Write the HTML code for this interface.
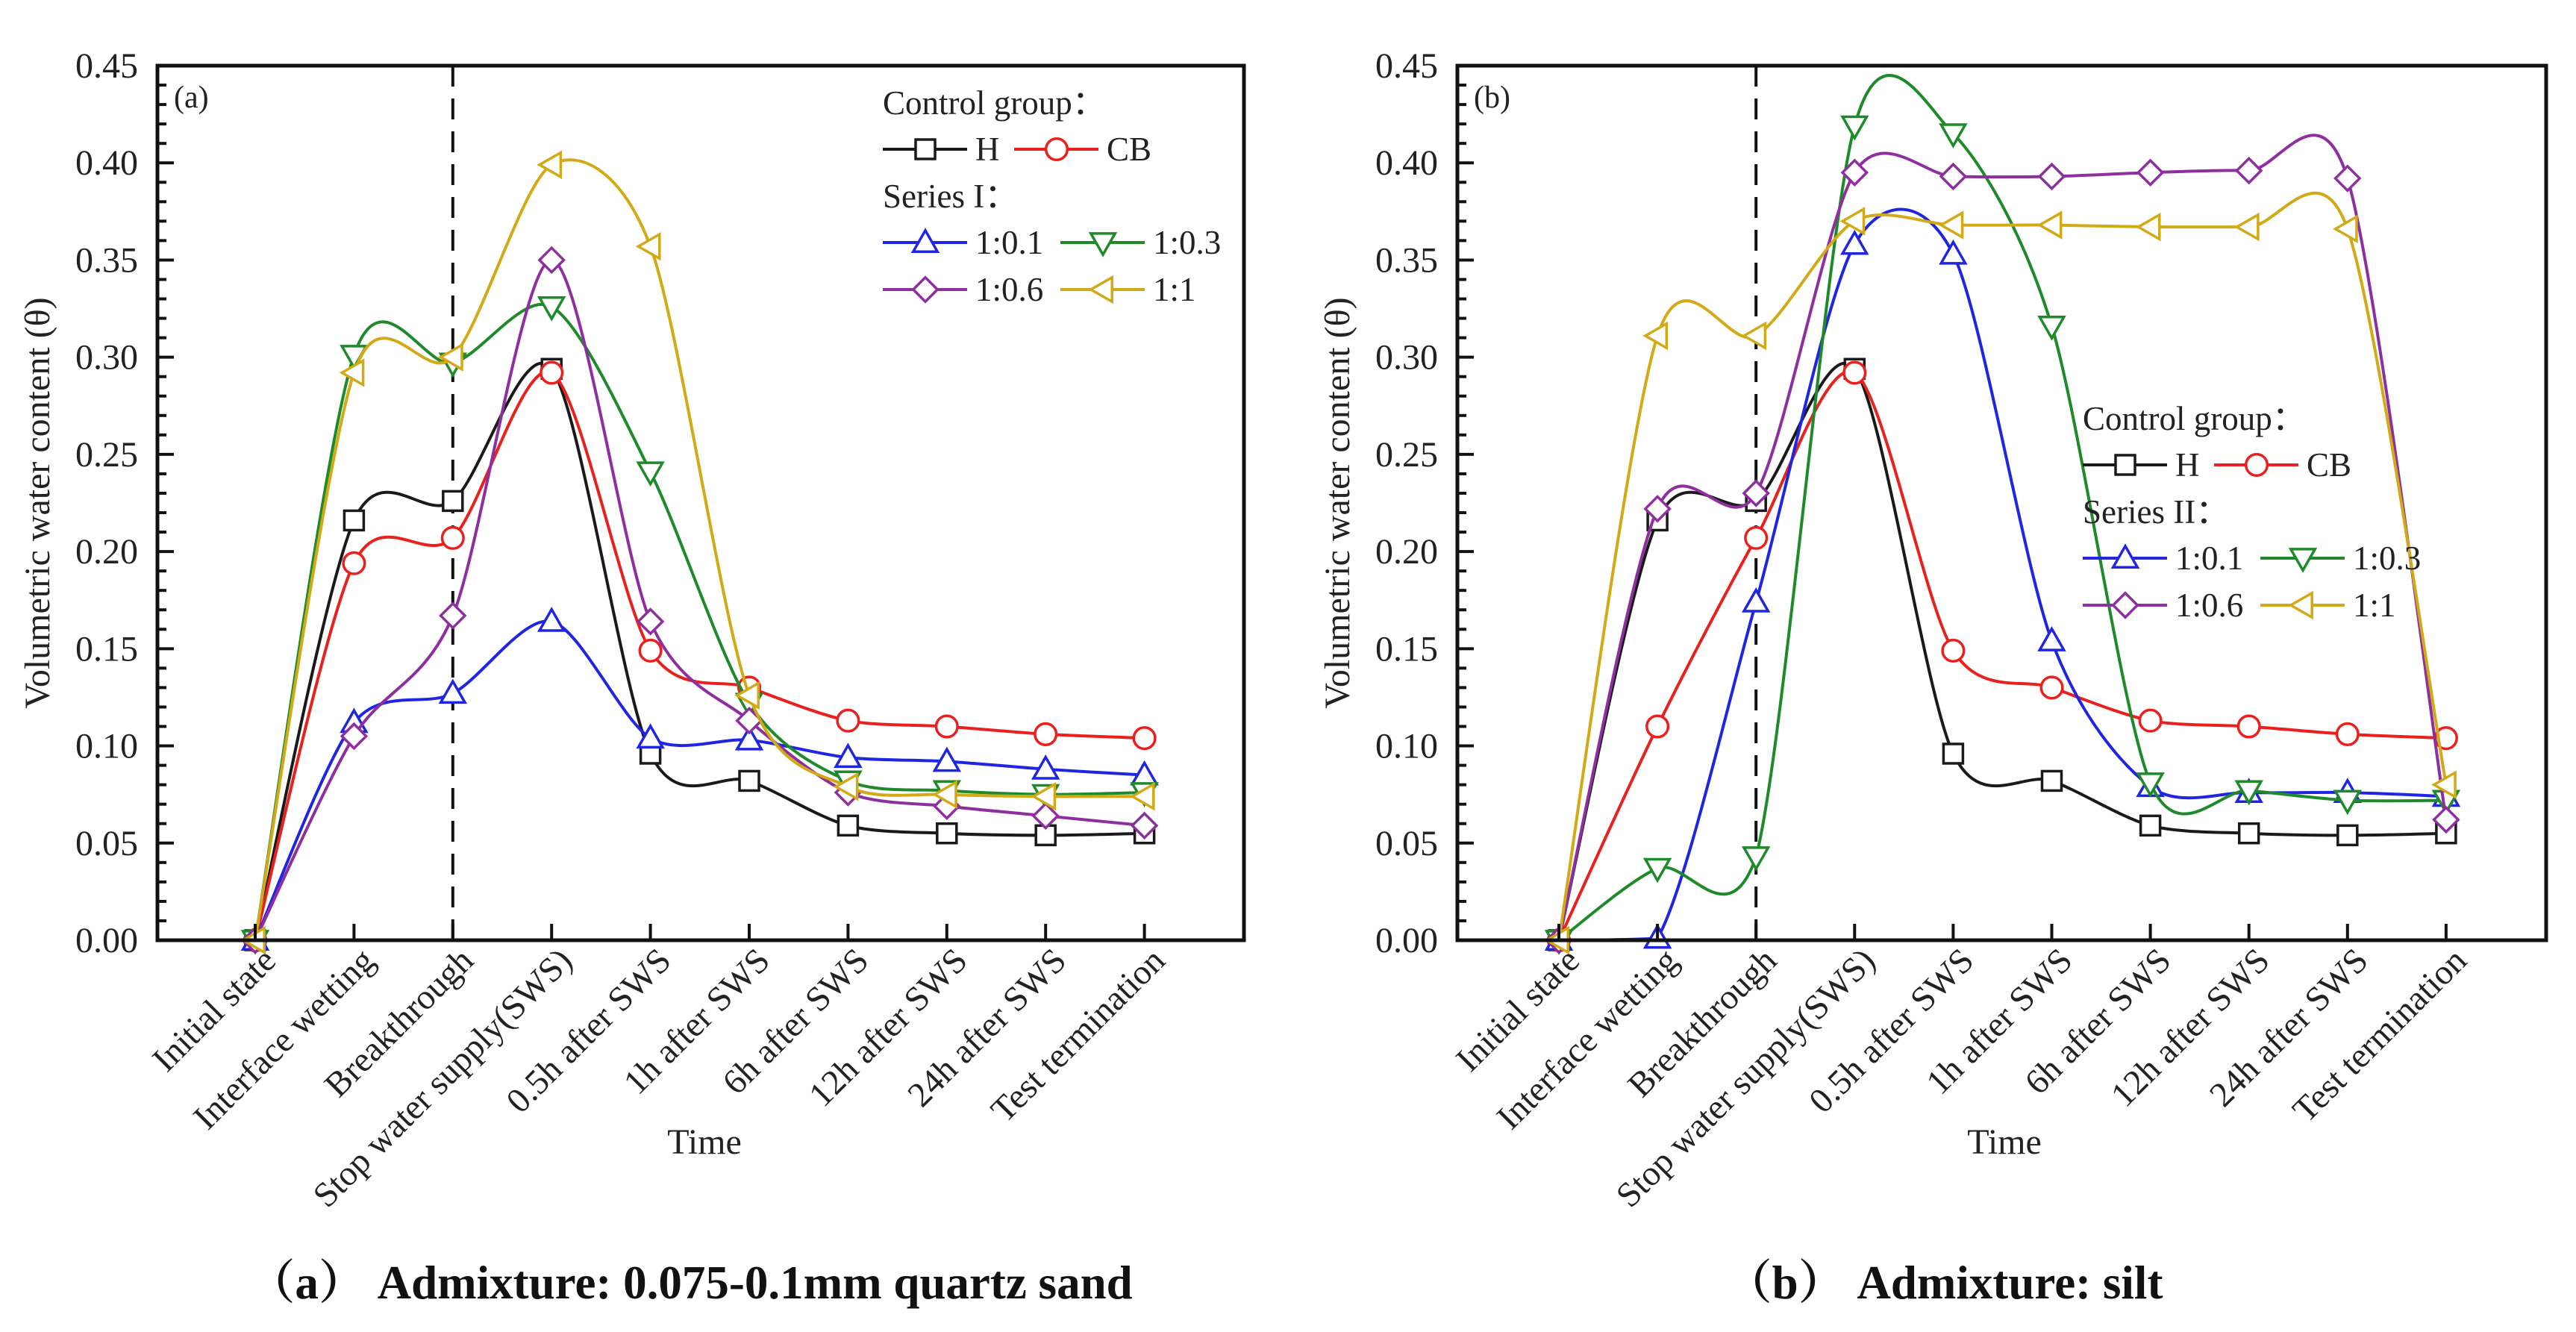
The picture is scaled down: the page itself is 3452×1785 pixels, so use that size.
<!DOCTYPE html>
<html><head><meta charset="utf-8"><style>
html,body{margin:0;padding:0;background:#fff;}
svg{display:block;font-family:"Liberation Serif",serif;}
</style></head><body>
<svg id="fig" width="3452" height="1785" viewBox="0 0 3452 1785" xmlns="http://www.w3.org/2000/svg"></svg>
<script>
const categories=["Initial state","Interface wetting","Breakthrough","Stop water supply(SWS)","0.5h after SWS","1h after SWS","6h after SWS","12h after SWS","24h after SWS","Test termination"];
const yTicks=[0,0.05,0.10,0.15,0.20,0.25,0.30,0.35,0.40,0.45];
const seriesNames=["H","CB","1:0.1","1:0.3","1:0.6","1:1"];
const seriesColors=["#1a1a1a","#e8211f","#1f25e0","#1f8a2a","#8e2fa0","#d2aa18"];
const seriesMarkers=["square","circle","tri-up","tri-down","diamond","tri-left"];
// Chart (a)
const aH=[0,0.216,0.226,0.294,0.096,0.082,0.059,0.055,0.054,0.055];
const aCB=[0,0.194,0.207,0.292,0.149,0.130,0.113,0.110,0.106,0.104];
const a01=[0,0.112,0.127,0.164,0.104,0.103,0.094,0.092,0.088,0.085];
const a03=[0,0.301,0.297,0.326,0.241,0.122,0.082,0.077,0.075,0.076];
const a06=[0,0.105,0.167,0.350,0.164,0.113,0.076,0.069,0.064,0.059];
const a1=[0,0.292,0.300,0.399,0.357,0.126,0.079,0.075,0.074,0.074];
// Chart (b)
const bH=[0,0.216,0.226,0.294,0.096,0.082,0.059,0.055,0.054,0.055];
const bCB=[0,0.110,0.207,0.292,0.149,0.130,0.113,0.110,0.106,0.104];
const b01=[0,0.001,0.174,0.358,0.353,0.154,0.079,0.076,0.076,0.074];
const b03=[0,0.037,0.043,0.419,0.415,0.316,0.081,0.077,0.072,0.072];
const b06=[0,0.222,0.230,0.395,0.393,0.393,0.395,0.396,0.392,0.062];
const b1=[0,0.311,0.311,0.370,0.368,0.368,0.367,0.367,0.366,0.080];

const NS="http://www.w3.org/2000/svg";
const svg=document.getElementById('fig');
function mk(tag,attrs,parent){const e=document.createElementNS(NS,tag);for(const k in attrs)e.setAttribute(k,attrs[k]);(parent||svg).appendChild(e);return e;}
function marker(g,type,x,y,color,s){
  let e;
  if(type==="square") e=mk('rect',{x:x-s,y:y-s,width:2*s,height:2*s},g);
  else if(type==="circle") e=mk('circle',{cx:x,cy:y,r:s*1.1},g);
  else {
    let p;
    const r=s*1.25;
    if(type==="tri-up") p=[[x,y-r],[x+r,y+r*0.75],[x-r,y+r*0.75]];
    else if(type==="tri-down") p=[[x,y+r],[x+r,y-r*0.75],[x-r,y-r*0.75]];
    else if(type==="tri-left") p=[[x-r,y],[x+r*0.75,y-r],[x+r*0.75,y+r]];
    else p=[[x,y-r],[x+r,y],[x,y+r],[x-r,y]];
    e=mk('polygon',{points:p.map(q=>q.join(',')).join(' ')},g);
  }
  e.setAttribute('fill','#fff');e.setAttribute('stroke',color);e.setAttribute('stroke-width',3.5);
  return e;
}
function spline(pts,B){
  let d=`M${pts[0][0]},${pts[0][1]}`;
  const f=1/7;
  for(let i=0;i<pts.length-1;i++){
    const p0=pts[Math.max(0,i-1)],p1=pts[i],p2=pts[i+1],p3=pts[Math.min(pts.length-1,i+2)];
    const c1=[p1[0]+(p2[0]-p0[0])*f,Math.min(B,p1[1]+(p2[1]-p0[1])*f)];
    const c2=[p2[0]-(p3[0]-p1[0])*f,Math.min(B,p2[1]-(p3[1]-p1[1])*f)];
    d+=` C${c1[0]},${c1[1]} ${c2[0]},${c2[1]} ${p2[0]},${p2[1]}`;
  }
  return d;
}
function drawChart(cfg){
  const {L,R,T,B,x0,dx,data,id,label,legend,seriesLabel,ytitleX,timeX,caption,capX}=cfg;
  const g=mk('g',{});
  
  const X=i=>x0+i*dx;
  const Y=v=>B-(v/0.45)*(B-T);
  const dl=mk('line',{x1:X(2),x2:X(2),y1:T,y2:B,stroke:'#111','stroke-width':4,'stroke-dasharray':'28,16'},g);
  
  data.forEach((vals,si)=>{
    const sg=mk('g',{},g);
    
    
    const pts=vals.map((v,i)=>[X(i),Y(v)]);
    mk('path',{d:spline(pts,B),fill:'none',stroke:seriesColors[si],'stroke-width':4},sg);
    pts.forEach(p=>{const m=marker(sg,seriesMarkers[si],p[0],p[1],seriesColors[si],13);
      });
  });
  const box=mk('rect',{x:L,y:T,width:R-L,height:B-T,fill:'none',stroke:'#111','stroke-width':5},g);
  
  for(let k=0;k<=45;k++){const v=k/100;const len=(k%5===0)?22:12;
    mk('line',{x1:L,x2:L+len,y1:Y(v),y2:Y(v),stroke:'#111','stroke-width':4},g);}
  yTicks.forEach(v=>{const t=mk('text',{x:L-26,y:Y(v)+16,'text-anchor':'end','font-size':48,fill:'#222'},g);t.textContent=v.toFixed(2);
    });
  categories.forEach((c,i)=>{
    mk('line',{x1:X(i),x2:X(i),y1:B,y2:B-22,stroke:'#111','stroke-width':4},g);
    const t=mk('text',{x:X(i)+30,y:B+30,'text-anchor':'end','font-size':47,fill:'#222',transform:`rotate(-45 ${X(i)+30} ${B+30})`},g);
    t.textContent=c;
  });
  const yt=mk('text',{x:ytitleX,y:(T+B)/2,'text-anchor':'middle','font-size':48,fill:'#222',transform:`rotate(-90 ${ytitleX} ${(T+B)/2})`},g);
  yt.textContent='Volumetric water content (θ)';
  const xt=mk('text',{x:timeX,y:1546,'text-anchor':'middle','font-size':48,fill:'#222'},g);
  xt.textContent='Time';
  const pl=mk('text',{x:L+22,y:T+56,'font-size':42,fill:'#222'},g);
  pl.textContent=label;
  const lg=mk('g',{},g);
  const lx=legend[0],ly=legend[1];
  const fs=45;
  const h1=mk('text',{x:lx,y:ly+15,'font-size':fs,fill:'#222'},lg);h1.textContent='Control group：';
  const h2=mk('text',{x:lx,y:ly+125+15,'font-size':fs,fill:'#222'},lg);h2.textContent=seriesLabel;
  const rows=[[0,1,62],[2,3,187],[4,5,250]];
  rows.forEach(r=>{
    [r[0],r[1]].forEach((si,j)=>{
      const ox=lx+(j===0?0:(si<2?176:238));
      const yy=ly+r[2];
      const e=mk('g',{},lg);
      mk('line',{x1:ox,x2:ox+113,y1:yy,y2:yy,stroke:seriesColors[si],'stroke-width':4},e);
      marker(e,seriesMarkers[si],ox+57,yy,seriesColors[si],13);
      const t=mk('text',{x:ox+124,y:yy+15,'font-size':fs,fill:'#222'},e);t.textContent=seriesNames[si];
    });
  });
  const cp=mk('text',{x:capX,y:1740,'text-anchor':'middle','font-size':63,'font-weight':'bold',fill:'#111','font-family':'"Liberation Serif","Noto Serif CJK SC",serif'},g);
  cp.textContent=caption;
}
drawChart({id:'a',L:211,R:1667,T:88,B:1260,x0:342,dx:132.4,data:[aH,aCB,a01,a03,a06,a1],label:'(a)',
  legend:[1183,138],seriesLabel:'Series I：',ytitleX:66,timeX:944,caption:'（a）  Admixture: 0.075-0.1mm quartz sand',capX:925});
drawChart({id:'b',L:1953,R:3412,T:88,B:1260,x0:2089,dx:132.1,data:[bH,bCB,b01,b03,b06,b1],label:'(b)',
  legend:[2791,561],seriesLabel:'Series II：',ytitleX:1808,timeX:2686,caption:'（b）  Admixture: silt',capX:2605});
</script>
</body></html>
